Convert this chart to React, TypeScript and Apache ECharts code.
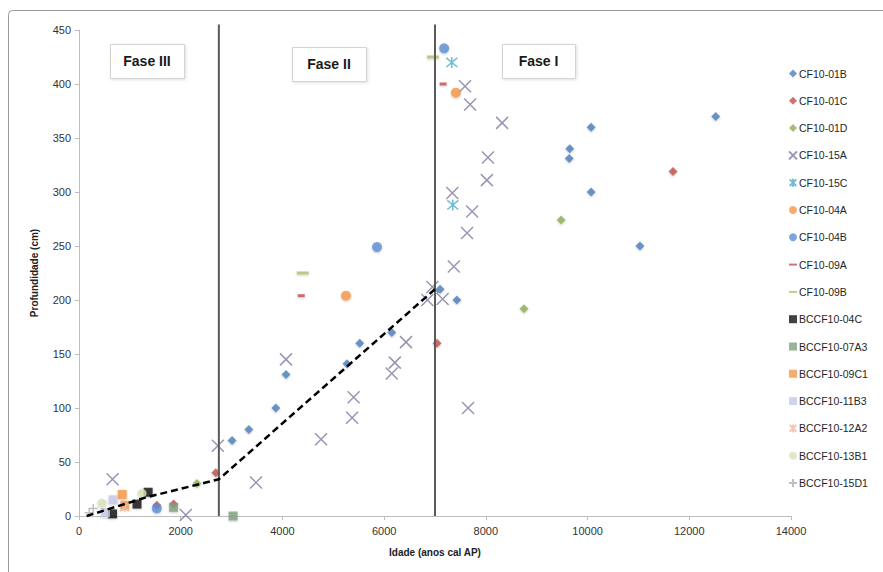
import React, { useEffect, useRef } from "react";
import * as echarts from "echarts";

// ---- data (Idade, Profundidade) ----
const cf1001B: [number, number][] = [[12520, 370], [10070, 360], [9650, 340], [9640, 331], [10070, 300], [11030, 250], [7100, 210], [7430, 200], [6150, 170], [5520, 160], [5270, 141], [4070, 131], [3870, 100], [3340, 80], [3010, 70]];
const cf1001C: [number, number][] = [[11680, 319], [7040, 160], [2690, 40], [1530, 10], [1860, 11]];
const cf1001D: [number, number][] = [[9480, 274], [8750, 192], [2320, 30]];
const cf1015A: [number, number][] = [[7590, 398], [7690, 381], [8320, 364], [8040, 332], [8020, 311], [7340, 299], [7730, 282], [7630, 262], [7370, 231], [6950, 212], [6850, 200], [7150, 201], [6430, 161], [4070, 145], [6210, 142], [6150, 132], [5400, 110], [7650, 100], [5370, 91], [4760, 71], [2730, 65], [3480, 31], [660, 34], [2100, 1]];
const cf1015C: [number, number][] = [[7330, 420], [7350, 288]];
const cf1004A: [number, number][] = [[7410, 392], [5250, 204]];
const cf1004B: [number, number][] = [[7180, 433], [5860, 249], [1530, 7]];
const cf1009A: [number, number][] = [[7160, 400], [4370, 204]];
const cf1009B: [number, number][] = [[6960, 425], [4400, 225]];
const bc04C: [number, number][] = [[1360, 22], [1140, 11], [660, 2]];
const bc07A3: [number, number][] = [[3030, 0], [1860, 8]];
const bc09C1: [number, number][] = [[850, 20], [900, 10]];
const bc11B3: [number, number][] = [[670, 15], [520, 3]];
const bc12A2: [number, number][] = [[900, 8]];
const bc13B1: [number, number][] = [[450, 12], [1240, 21]];
const bc15D1: [number, number][] = [[280, 7], [200, 3]];

const trendX = [150, 1300, 2750, 7000];
const trendY = [0, 17, 34, 210];
const phaseBounds = [2750, 7000];
const phaseLabels = ["Fase III", "Fase II", "Fase I"];

const xTicks = [0, 14000, 2000];
const yTicks = [0, 450, 50];

const FONT = "'Liberation Sans', Arial, sans-serif";
const X_PATH = "path://M0,0L10,10M10,0L0,10";
const AST_PATH = "path://M0,0L10,10M10,0L0,10M5,-1L5,11";
const PLUS_PATH = "path://M5,0L5,10M0,5L10,5";
const DASH_PATH = "path://M0,4L10,4L10,6.5L0,6.5Z";

type S = { name: string; data: [number, number][]; symbol: string; size: number | number[]; color: string; stroke?: boolean; icon?: string };

const seriesDefs: S[] = [
  { name: "CF10-01B", data: cf1001B, symbol: "diamond", size: 9, color: "#4a7ebb" },
  { name: "CF10-01C", data: cf1001C, symbol: "diamond", size: 9, color: "#c0504d" },
  { name: "CF10-01D", data: cf1001D, symbol: "diamond", size: 9, color: "#8fae55" },
  { name: "CF10-15A", data: cf1015A, symbol: X_PATH, size: 12, color: "#7e7aa0", stroke: true },
  { name: "CF10-15C", data: cf1015C, symbol: AST_PATH, size: 11, color: "#4bacc6", stroke: true },
  { name: "CF10-04A", data: cf1004A, symbol: "circle", size: 10, color: "#f79646" },
  { name: "CF10-04B", data: cf1004B, symbol: "circle", size: 10, color: "#5b8fd6" },
  { name: "CF10-09A", data: cf1009A, symbol: "rect", size: [7, 3], color: "#c0504d", icon: DASH_PATH },
  { name: "CF10-09B", data: cf1009B, symbol: "rect", size: [12, 3], color: "#a9c46c", icon: DASH_PATH },
  { name: "BCCF10-04C", data: bc04C, symbol: "rect", size: 9, color: "#111111" },
  { name: "BCCF10-07A3", data: bc07A3, symbol: "rect", size: 9, color: "#7fa07f" },
  { name: "BCCF10-09C1", data: bc09C1, symbol: "rect", size: 9, color: "#f79646" },
  { name: "BCCF10-11B3", data: bc11B3, symbol: "rect", size: 9, color: "#c5c9e8" },
  { name: "BCCF10-12A2", data: bc12A2, symbol: AST_PATH, size: 9, color: "#f5b89a", stroke: true },
  { name: "BCCF10-13B1", data: bc13B1, symbol: "circle", size: 9, color: "#d6e3bc" },
  { name: "BCCF10-15D1", data: bc15D1, symbol: PLUS_PATH, size: 9, color: "#b0b0b0", stroke: true },
];

function buildOption() {
  const scatter = seriesDefs.map((d) => ({
    type: "scatter",
    name: d.name,
    data: d.data,
    symbol: d.symbol,
    symbolSize: d.size,
    clip: false,
    itemStyle: d.stroke
      ? { color: d.color, borderColor: d.color, borderWidth: 1.5 }
      : { color: d.color, borderWidth: 0, shadowColor: "rgba(0,0,0,0.25)", shadowBlur: 2, shadowOffsetY: 1 },
  }));
  const trend = {
    type: "line",
    name: "trend",
    data: trendX.map((x, i) => [x, trendY[i]]),
    symbol: "none",
    clip: false,
    lineStyle: { color: "#000", width: 2.5, type: [7, 4] },
    z: 5,
  };
  const phases = phaseBounds.map((b, i) => ({
    type: "line",
    name: "phase" + i,
    data: [[b, 0], [b, 455]],
    symbol: "none",
    clip: false,
    lineStyle: { color: "#5a5a5a", width: 2 },
    z: 4,
  }));

  const boxes = [
    { x: 110, y: 44, w: 74, h: 34, t: phaseLabels[0] },
    { x: 292, y: 47, w: 74, h: 34, t: phaseLabels[1] },
    { x: 502, y: 44, w: 73, h: 34, t: phaseLabels[2] },
  ];
  const graphic: any[] = [
    { type: "rect", shape: { x: 8.5, y: 10.5, width: 900, height: 600, r: 4 }, style: { fill: "none", stroke: "#9a9a9a", lineWidth: 1 }, silent: true, z: -1 },
  ];
  boxes.forEach((b) => {
    graphic.push({
      type: "rect",
      shape: { x: b.x + 0.5, y: b.y + 0.5, width: b.w, height: b.h },
      style: { fill: "#fff", stroke: "#d4d4d4", lineWidth: 1, shadowColor: "rgba(0,0,0,0.12)", shadowBlur: 3, shadowOffsetX: 1, shadowOffsetY: 1 },
      z: 10,
    });
    graphic.push({
      type: "text",
      x: b.x + b.w / 2,
      y: b.y + b.h / 2,
      style: { text: b.t, fill: "#1a1a1a", font: `bold 14px ${FONT}`, align: "center", verticalAlign: "middle" },
      z: 11,
    });
  });

  const axisCommon = {
    axisLine: { show: true, lineStyle: { color: "#bdbdbd", width: 1 } },
    axisTick: { show: true, inside: false, length: 4, lineStyle: { color: "#bdbdbd" } },
    splitLine: { show: false },
    axisLabel: { color: "#333", fontSize: 11, fontFamily: FONT, formatter: (v: number) => String(v) },
    nameTextStyle: { color: "#222", fontSize: 10, fontWeight: "bold", fontFamily: FONT },
  };

  return {
    animation: false,
    backgroundColor: "#fff",
    textStyle: { fontFamily: FONT },
    grid: { left: 79, right: 92, top: 30, bottom: 56, containLabel: false },
    xAxis: {
      type: "value",
      min: xTicks[0],
      max: xTicks[1],
      interval: xTicks[2],
      name: "Idade (anos cal AP)",
      nameLocation: "middle",
      nameGap: 31,
      ...axisCommon,
      axisLabel: { ...axisCommon.axisLabel, margin: 9 },
    },
    yAxis: {
      type: "value",
      min: yTicks[0],
      max: yTicks[1],
      interval: yTicks[2],
      name: "Profundidade (cm)",
      nameLocation: "middle",
      nameGap: 40,
      nameRotate: 90,
      ...axisCommon,
      axisLabel: { ...axisCommon.axisLabel, margin: 8 },
    },
    legend: {
      orient: "vertical",
      left: 783,
      top: 63,
      itemWidth: 8,
      itemHeight: 8,
      itemGap: 16.3,
      data: seriesDefs.map((d) => (d.icon ? { name: d.name, icon: d.icon } : d.name)),
      textStyle: { color: "#262626", fontSize: 10.5, fontFamily: FONT, padding: [0, 0, 0, -3] },
    },
    graphic,
    series: [...scatter, trend, ...phases],
  };
}

export default function App() {
  const ref = useRef<HTMLDivElement>(null);
  useEffect(() => {
    if (!ref.current) return;
    const chart = echarts.init(ref.current, undefined, { renderer: "svg" });
    chart.setOption(buildOption() as any);
    return () => chart.dispose();
  }, []);
  return <div ref={ref} style={{ width: 883, height: 572, position: "absolute", left: 0, top: 0 }} />;
}
